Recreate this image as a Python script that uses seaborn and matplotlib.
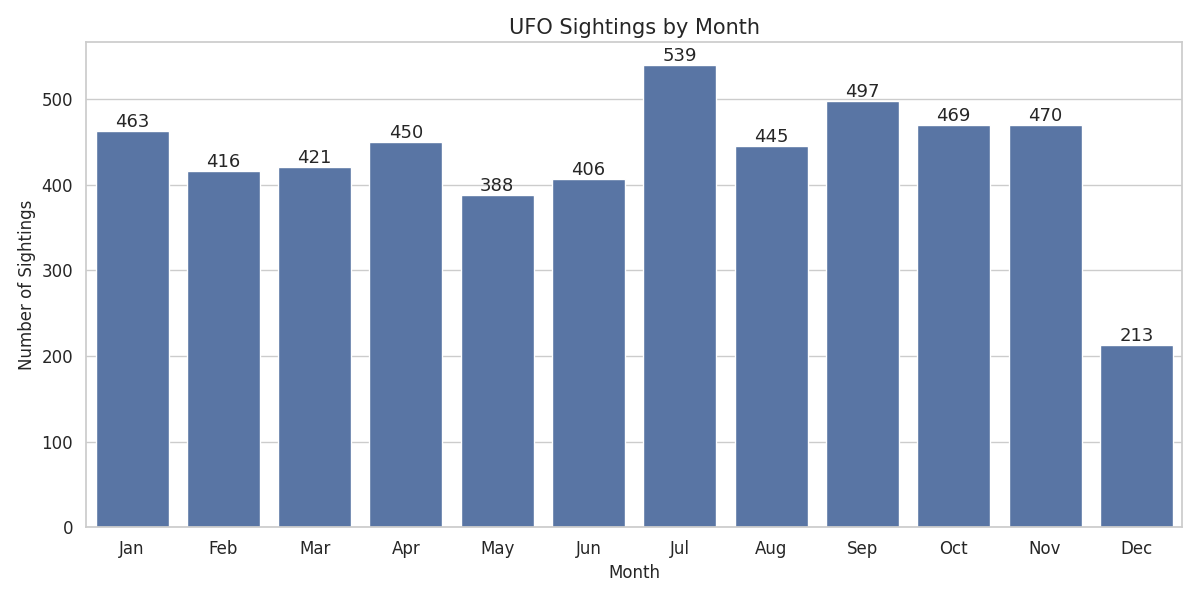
import seaborn as sns
import matplotlib.pyplot as plt
import pandas as pd

months = ['Jan', 'Feb', 'Mar', 'Apr', 'May', 'Jun', 'Jul', 'Aug', 'Sep', 'Oct', 'Nov', 'Dec']
sightings = [463, 416, 421, 450, 388, 406, 539, 445, 497, 469, 470, 213]

df = pd.DataFrame({'Month': months, 'Number of Sightings': sightings})

sns.set_theme(style='whitegrid')
fig, ax = plt.subplots(figsize=(12, 6), dpi=100)
sns.barplot(data=df, x='Month', y='Number of Sightings', ax=ax)
ax.bar_label(ax.containers[0], fontsize=13)
ax.set_title('UFO Sightings by Month', fontsize=15)
ax.set_xlabel('Month', fontsize=12)
ax.set_ylabel('Number of Sightings', fontsize=12)
ax.tick_params(labelsize=12)
plt.tight_layout()
plt.savefig('out.png')
